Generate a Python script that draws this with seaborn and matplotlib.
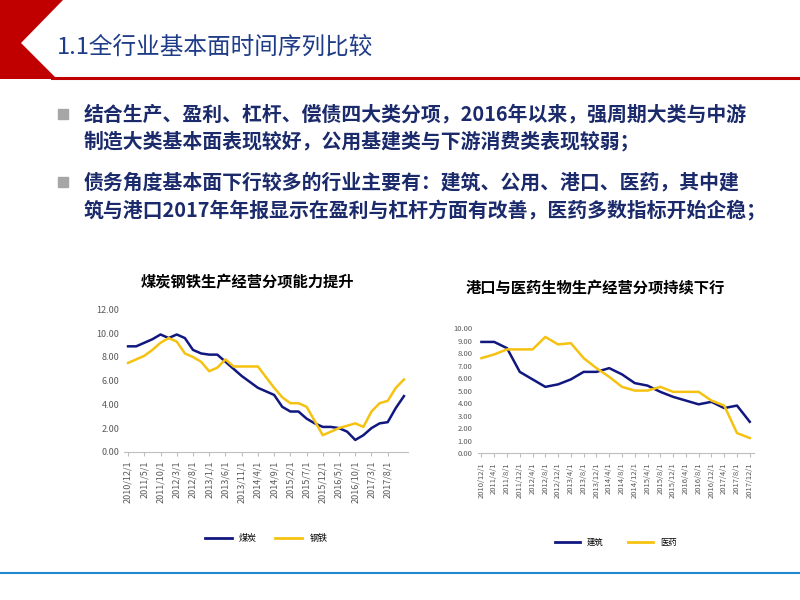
import matplotlib
matplotlib.use("Agg")
import matplotlib.pyplot as plt
import seaborn as sns
import pandas as pd
import numpy as np
from matplotlib.patches import Rectangle, Polygon

plt.rcParams["font.family"] = ["Noto Sans CJK SC", "DejaVu Sans"]

# Left chart data
left_labels = ["2010/12/1","2011/5/1","2011/10/1","2012/3/1","2012/8/1","2013/1/1","2013/6/1",
               "2013/11/1","2014/4/1","2014/9/1","2015/2/1","2015/7/1","2015/12/1","2016/5/1",
               "2016/10/1","2017/3/1","2017/8/1"]
coal = [8.9,8.9,9.2,9.5,9.9,9.6,9.9,9.6,8.6,8.3,8.2,8.2,7.6,7.0,6.4,5.9,5.4,5.1,4.8,3.8,
        3.4,3.4,2.8,2.4,2.1,2.1,2.0,1.7,1.0,1.4,2.0,2.4,2.5,3.7,4.7]
steel = [7.5,7.8,8.1,8.6,9.2,9.6,9.3,8.3,8.0,7.6,6.8,7.1,7.8,7.2,7.2,7.2,7.2,6.3,5.4,4.6,
         4.1,4.1,3.8,2.6,1.4,1.7,2.0,2.2,2.4,2.1,3.4,4.1,4.3,5.4,6.1]

# Right chart data
right_labels = ["2010/12/1","2011/4/1","2011/8/1","2011/12/1","2012/4/1","2012/8/1","2012/12/1",
                "2013/4/1","2013/8/1","2013/12/1","2014/4/1","2014/8/1","2014/12/1","2015/4/1",
                "2015/8/1","2015/12/1","2016/4/1","2016/8/1","2016/12/1","2017/4/1","2017/8/1","2017/12/1"]
construction = [8.9,8.9,8.4,6.5,5.9,5.3,5.5,5.9,6.5,6.5,6.8,6.3,5.6,5.4,4.9,4.5,4.2,3.9,4.1,3.6,3.8,2.5]
medicine = [7.6,7.9,8.3,8.3,8.3,9.3,8.7,8.8,7.6,6.8,6.1,5.3,5.0,5.0,5.3,4.9,4.9,4.9,4.2,3.8,1.6,1.2]

NAVY = "#10177F"
GOLD = "#F5C211"
W, H = 800, 600

def fx(x): return x / W
def fy(y): return 1 - y / H

fig = plt.figure(figsize=(8, 6), dpi=100)
fig.patch.set_facecolor("white")

# slide decorations
fig.add_artist(Polygon([(fx(0), fy(0)), (fx(63), fy(0)), (fx(21), fy(43)), (fx(57), fy(79)), (fx(0), fy(79))],
                       closed=True, transform=fig.transFigure, color="#C00000", lw=0))
fig.add_artist(plt.Line2D([fx(52), 1.0], [fy(77.5), fy(77.5)], transform=fig.transFigure, color="#C00000", lw=2.2))
fig.text(fx(57), fy(47), "1.1全行业基本面时间序列比较", fontsize=17, color="#1F3C88", va="center")
fig.add_artist(plt.Line2D([0.0, 1.0], [fy(573), fy(573)], transform=fig.transFigure, color="#1E88D0", lw=1.5))

bullets = [
    (114, "结合生产、盈利、杠杆、偿债四大类分项，2016年以来，强周期大类与中游"),
    (141, "制造大类基本面表现较好，公用基建类与下游消费类表现较弱；"),
    (182, "债务角度基本面下行较多的行业主要有：建筑、公用、港口、医药，其中建"),
    (210, "筑与港口2017年年报显示在盈利与杠杆方面有改善，医药多数指标开始企稳；"),
]
for y, t in bullets:
    fig.text(fx(84), fy(y), t, fontsize=14.3, color="#1B2A6B", va="center", fontweight="bold")
for y in (114, 182):
    fig.add_artist(Rectangle((fx(58), fy(y + 5)), fx(10), 10 / H, transform=fig.transFigure, color="#A6A6A6"))

def style(ax, labels, step, ymax, ystep, fs):
    ax.set_ylim(0, ymax)
    ax.set_yticks(np.arange(0, ymax + 0.01, ystep))
    ax.set_yticklabels([f"{v:.2f}" for v in np.arange(0, ymax + 0.01, ystep)], fontsize=fs, color="#595959")
    ax.set_xticks(np.arange(len(labels)) * step)
    ax.set_xticklabels(labels, rotation=90, fontsize=fs, color="#595959")
    ax.set_xlabel(""); ax.set_ylabel("")
    for s in ("top", "right", "left"):
        ax.spines[s].set_visible(False)
    ax.spines["bottom"].set_color("#BFBFBF")
    ax.tick_params(axis="y", length=0)
    ax.tick_params(axis="x", length=3, color="#BFBFBF")

# left chart
ax1 = fig.add_axes([0.155, 0.247, 0.355, 0.237])
dfl = pd.DataFrame({"x": np.arange(len(coal)), "煤炭": coal, "钢铁": steel}).melt("x", var_name="s", value_name="v")
sns.lineplot(data=dfl, x="x", y="v", hue="s", palette=[NAVY, GOLD], lw=1.8, ax=ax1, legend=False)
style(ax1, left_labels, 2, 12, 2, 6.5)
ax1.set_xlim(-0.5, len(coal) - 0.5)
fig.text(fx(247), fy(282), "煤炭钢铁生产经营分项能力提升", fontsize=11, fontweight="bold", ha="center", va="center")
ax1.legend(handles=[plt.Line2D([], [], color=NAVY, lw=2), plt.Line2D([], [], color=GOLD, lw=2)],
           labels=["煤炭", "钢铁"], loc="upper center", bbox_to_anchor=(0.5, -0.52), ncol=2,
           frameon=False, fontsize=6.5, handlelength=3, columnspacing=2)

# right chart
ax2 = fig.add_axes([0.597, 0.245, 0.345, 0.208])
dfr = pd.DataFrame({"x": np.arange(len(construction)), "建筑": construction, "医药": medicine}).melt("x", var_name="s", value_name="v")
sns.lineplot(data=dfr, x="x", y="v", hue="s", palette=[NAVY, GOLD], lw=1.8, ax=ax2, legend=False)
style(ax2, right_labels, 1, 10, 1, 5.5)
ax2.set_xlim(-0.3, len(construction) - 0.7)
fig.text(fx(595), fy(288), "港口与医药生物生产经营分项持续下行", fontsize=11, fontweight="bold", ha="center", va="center")
ax2.legend(handles=[plt.Line2D([], [], color=NAVY, lw=2), plt.Line2D([], [], color=GOLD, lw=2)],
           labels=["建筑", "医药"], loc="upper center", bbox_to_anchor=(0.5, -0.62), ncol=2,
           frameon=False, fontsize=6, handlelength=3, columnspacing=3)

fig.savefig("out.png", dpi=100)
